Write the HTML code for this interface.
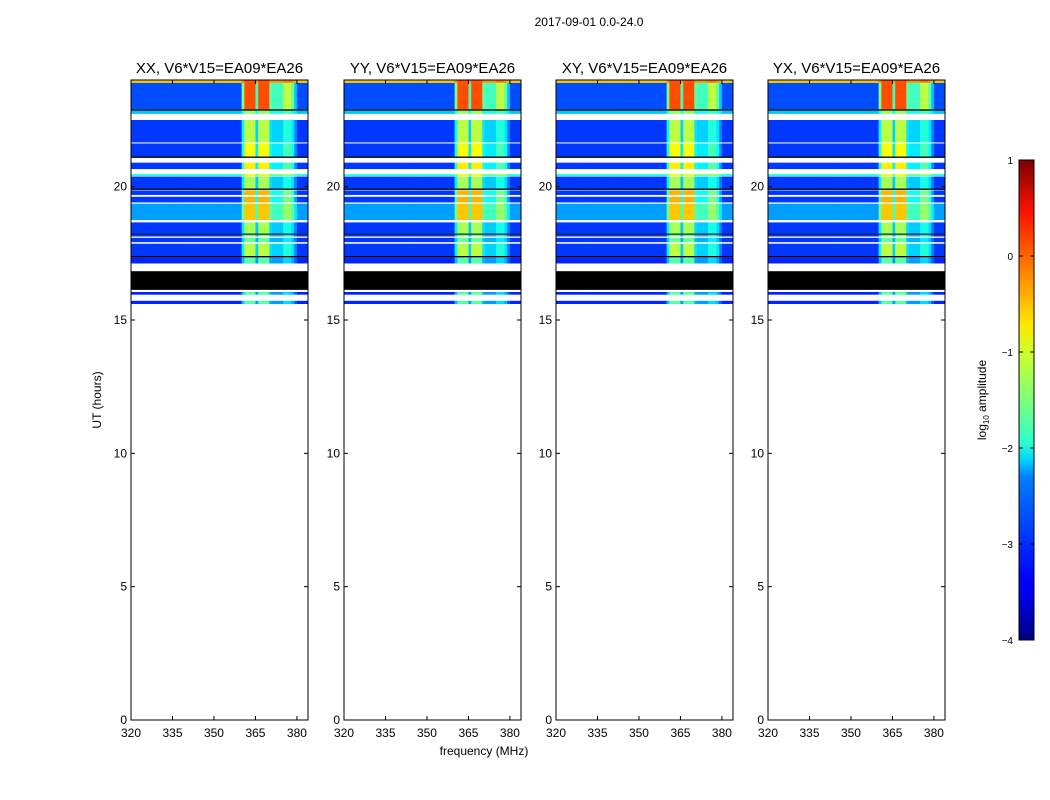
<!DOCTYPE html>
<html><head><meta charset="utf-8"><style>
body{margin:0;background:#fff;}
svg{display:block;font-family:"Liberation Sans",sans-serif;}
</style></head><body>
<svg id="fig" width="1050" height="800" viewBox="0 0 1050 800">
<defs><linearGradient id="jet" x1="0" y1="1" x2="0" y2="0">
<stop offset="0" stop-color="#00007f"/><stop offset="0.11" stop-color="#0000ff"/><stop offset="0.125" stop-color="#0000ff"/>
<stop offset="0.34" stop-color="#0080ff"/><stop offset="0.375" stop-color="#00d4ff"/><stop offset="0.41" stop-color="#29ffce"/>
<stop offset="0.5" stop-color="#7dff7a"/><stop offset="0.6" stop-color="#ceff29"/><stop offset="0.66" stop-color="#ffe500"/>
<stop offset="0.75" stop-color="#ff9400"/><stop offset="0.89" stop-color="#ff1300"/><stop offset="1" stop-color="#7f0000"/>
</linearGradient></defs>
<text x="589" y="26" font-size="12" text-anchor="middle">2017-09-01 0.0-24.0</text>
<text x="484" y="755" font-size="12" text-anchor="middle">frequency (MHz)</text>
<text transform="translate(101,400) rotate(-90)" font-size="12" text-anchor="middle">UT (hours)</text>
<g id="panels"></g>
<g>
<rect x="1019" y="160" width="15" height="480" fill="url(#jet)" stroke="#000" stroke-width="1"/>
<g id="cbticks"></g>
<text transform="translate(986,400) rotate(-90)" font-size="12" text-anchor="middle">log<tspan font-size="8" dy="3">10</tspan><tspan dy="-3"> amplitude</tspan></text>
</g>
</svg>
<script>
const panelTitles=["XX, V6*V15=EA09*EA26","YY, V6*V15=EA09*EA26","XY, V6*V15=EA09*EA26","YX, V6*V15=EA09*EA26"];
const panelLefts=[131,344,556,768];
const xTicks=[320,335,350,365,380];
const yTicks=[0,5,10,15,20];
const cbTicks=[1,0,-1,-2,-3,-4];
// channel gains, 320..383 MHz
const chanGain=[0,0,0,0,0,0,0,0,0,0,0,0,0,0,0,0,0,0,0,0,0,0,0,0,0,0,0,0,0,0,0,0,0,0,0,0,0,0,0,0,0.5,1,1,1,1,0.4,1,1,1,1,0.45,0.4,0.4,0.4,0.4,0.6,0.6,0.6,0.45,0.2,0,0,0,0];
// data rows: start hour, end hour, background log amp, boost
const rowStart=[23.89,22.9,22.73,21.66,21.13,20.66,20.4,19.93,19.69,19.41,18.75,18.24,18.13,17.92,17.4,17.12,15.95,15.6];
const rowEnd=[24,23.89,22.85,22.5,21.62,20.9,20.47,20.38,19.86,19.62,19.36,18.66,18.2,18.08,17.86,17.35,16.05,15.72];
const rowBg=[-0.6,-3.0,-2.4,-3.1,-3.1,-3.1,-2.0,-3.1,-3.1,-3.1,-2.6,-3.1,-3.1,-3.1,-3.1,-3.2,-3.2,-3.2];
const rowBoost=[0.6,3.0,1.0,1.9,2.2,2.3,1.0,1.8,2.6,2.6,2.0,1.8,1.5,1.5,1.9,1.5,1.5,1.5];
const blackStart=[22.85,21.08,19.88,18.2,17.35,16.13];
const blackEnd=[22.9,21.13,19.93,18.24,17.4,16.83];
const NS="http://www.w3.org/2000/svg";
function jet(v){let t=(v+4)/5;t=Math.max(0,Math.min(1,t));
 const r=Math.max(0,Math.min(1,1.5-Math.abs(4*t-3))),g=Math.max(0,Math.min(1,1.5-Math.abs(4*t-2))),b=Math.max(0,Math.min(1,1.5-Math.abs(4*t-1)));
 return `rgb(${Math.round(r*255)},${Math.round(g*255)},${Math.round(b*255)})`;}
function el(tag,attrs,parent){const e=document.createElementNS(NS,tag);for(const k in attrs)e.setAttribute(k,attrs[k]);parent.appendChild(e);return e;}
const W=177,plotTop=80,plotBot=720;
const yS=h=>plotBot-(h/24)*(plotBot-plotTop);
const panelsG=document.getElementById('panels');
panelTitles.forEach((title,p)=>{
 const L=panelLefts[p];const xS=f=>L+(f-320)/64*W;
 const g=el('g',{},panelsG);
 
 
 rowStart.forEach((h0,r)=>{
  chanGain.forEach((cg,c)=>{
   const v=rowBg[r]+cg*rowBoost[r];
   const x0=xS(320+c),x1=xS(321+c);
   const cell=el('rect',{x:x0,y:yS(rowEnd[r]),width:x1-x0+0.4,height:yS(h0)-yS(rowEnd[r]),fill:jet(v)},g);
   
   
  });
 });
 blackStart.forEach((h0,i)=>{
  const b=el('rect',{x:L,y:yS(blackEnd[i]),width:W,height:yS(h0)-yS(blackEnd[i]),fill:'#000'},g);
  
  
 });
 const frame=el('rect',{x:L,y:plotTop,width:W,height:plotBot-plotTop,fill:'none',stroke:'#000','stroke-width':1},g);
 
 
 const t=el('text',{x:L+W/2,y:73,'font-size':15,'text-anchor':'middle'},g);t.textContent=title;
 
 
 xTicks.forEach(f=>{const x=xS(f);
  el('line',{x1:x,x2:x,y1:plotBot,y2:plotBot-4,stroke:'#000'},g);el('line',{x1:x,x2:x,y1:plotTop,y2:plotTop+4,stroke:'#000'},g);
  const tl=el('text',{x:x,y:737,'font-size':12,'text-anchor':'middle'},g);tl.textContent=f;
  
  });
 yTicks.forEach(h=>{const y=yS(h);
  el('line',{x1:L,x2:L+4,y1:y,y2:y,stroke:'#000'},g);el('line',{x1:L+W,x2:L+W-4,y1:y,y2:y,stroke:'#000'},g);
  const tl=el('text',{x:L-4,y:y+4,'font-size':12,'text-anchor':'end'},g);tl.textContent=h;
  
  });
});
const cbg=document.getElementById('cbticks');
cbTicks.forEach(v=>{const y=640-(v+4)/5*480;
 el('line',{x1:1019,x2:1023,y1:y,y2:y,stroke:'#000'},cbg);el('line',{x1:1034,x2:1030,y1:y,y2:y,stroke:'#000'},cbg);
 const tl=el('text',{x:1013,y:y+4,'font-size':10,'text-anchor':'end'},cbg);tl.textContent=v<0?'\u2212'+(-v):v;
 
 });
</script>
</body></html>
